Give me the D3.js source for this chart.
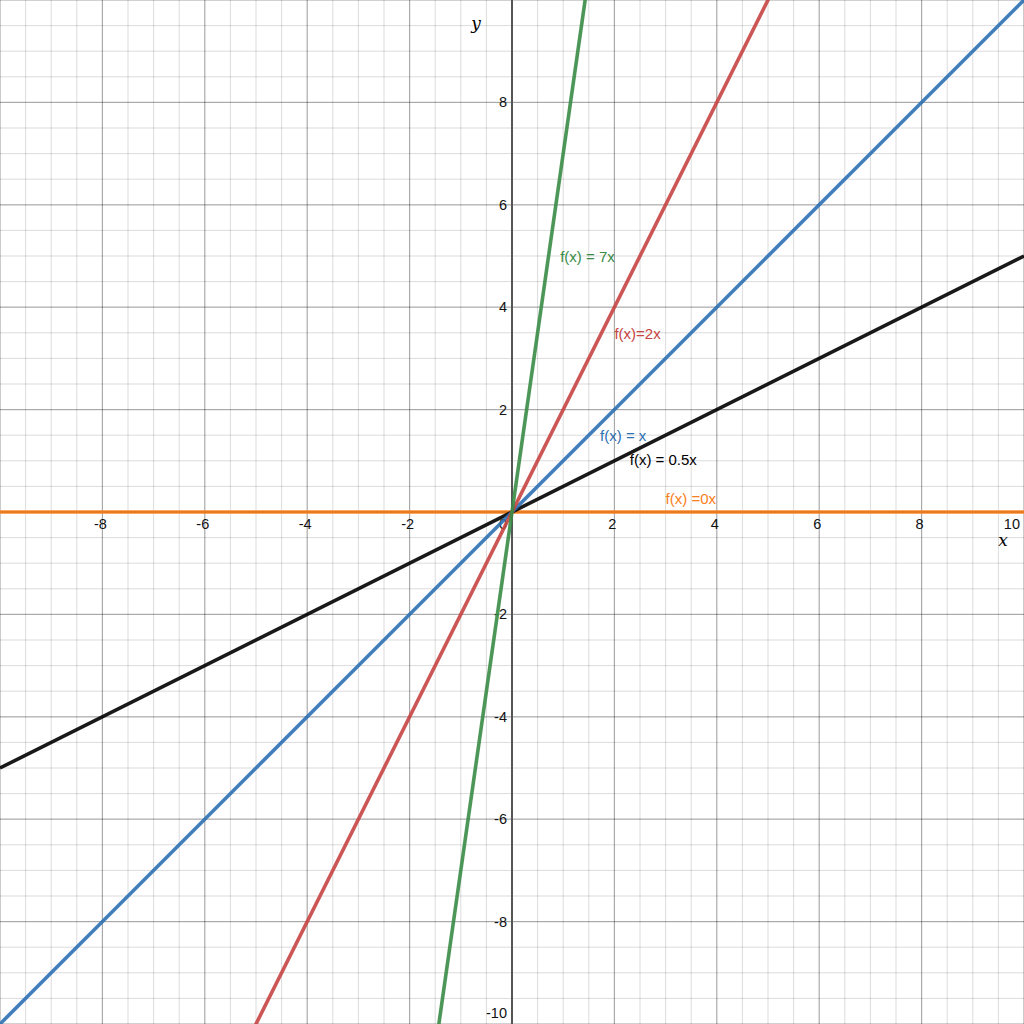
<!DOCTYPE html>
<html>
<head>
<meta charset="utf-8">
<script src="https://cdn.jsdelivr.net/npm/d3@7"></script>
<style>
  html, body { margin: 0; padding: 0; background: #fff; }
  svg { display: block; }
</style>
</head>
<body>
<div id="chart"></div>
<script>
// functions f(x) = k x
const slopes = [0, 0.5, 1, 2, 7];
const names = ["f(x) =0x", "f(x) = 0.5x", "f(x) = x", "f(x)=2x", "f(x) = 7x"];
const colors = ["#fa7e19", "#000000", "#2d70b3", "#c74440", "#388c46"];
// where each label sits (data units, left edge / middle)
const labelX = [3.0, 2.3, 1.72, 2.0, 0.94];
const labelY = [0.27, 1.02, 1.5, 3.48, 5.0];

const xTicks = [-8, -6, -4, -2, 2, 4, 6, 8, 10];
const yTicks = [8, 6, 4, 2, -2, -4, -6, -8, -10];

const width = 1024;
const height = 1024;

const x = d3.scaleLinear().domain([-10, 10]).range([0, width]);
const y = d3.scaleLinear().domain([-10, 10]).range([height, 0]);

const svg = d3.select("#chart")
    .append("svg")
    .attr("width", width)
    .attr("height", height)
    .attr("font-family", "Arial, 'Liberation Sans', sans-serif");

// grid: minor every 0.5, major every 2
const minor = d3.range(-10, 10.01, 0.5);
const major = d3.range(-10, 10.01, 2);

const grid = svg.append("g");
grid.selectAll(".vminor").data(minor).join("line")
    .attr("x1", d => x(d)).attr("x2", d => x(d))
    .attr("y1", 0).attr("y2", height)
    .attr("stroke", "#000").attr("stroke-opacity", 0.14).attr("stroke-width", 1);
grid.selectAll(".hminor").data(minor).join("line")
    .attr("y1", d => y(d)).attr("y2", d => y(d))
    .attr("x1", 0).attr("x2", width)
    .attr("stroke", "#000").attr("stroke-opacity", 0.14).attr("stroke-width", 1);
grid.selectAll(".vmajor").data(major).join("line")
    .attr("x1", d => x(d)).attr("x2", d => x(d))
    .attr("y1", 0).attr("y2", height)
    .attr("stroke", "#000").attr("stroke-opacity", 0.24).attr("stroke-width", 1.2);
grid.selectAll(".hmajor").data(major).join("line")
    .attr("y1", d => y(d)).attr("y2", d => y(d))
    .attr("x1", 0).attr("x2", width)
    .attr("stroke", "#000").attr("stroke-opacity", 0.24).attr("stroke-width", 1.2);

// axes
svg.append("line")
    .attr("x1", 0).attr("x2", width).attr("y1", y(0)).attr("y2", y(0))
    .attr("stroke", "#555").attr("stroke-width", 2);
svg.append("line")
    .attr("x1", x(0)).attr("x2", x(0)).attr("y1", 0).attr("y2", height)
    .attr("stroke", "#555").attr("stroke-width", 2);

// tick labels
svg.append("g").selectAll("text").data(xTicks).join("text")
    .attr("x", d => d === 10 ? width - 4 : x(d) - 2)
    .attr("y", y(0) + 17)
    .attr("text-anchor", d => d === 10 ? "end" : "middle")
    .attr("font-size", 14.5)
    .attr("fill", "#111")
    .text(d => d);

svg.append("g").selectAll("text").data(yTicks).join("text")
    .attr("x", x(0) - 5)
    .attr("y", d => Math.min(y(d), height - 11) + 5)
    .attr("text-anchor", "end")
    .attr("font-size", 14.5)
    .attr("fill", "#111")
    .text(d => d);

svg.append("text")
    .attr("x", x(0) - 5).attr("y", y(0) + 17)
    .attr("text-anchor", "end")
    .attr("font-size", 14.5).attr("fill", "#111")
    .text("0");

// axis names
svg.append("text")
    .attr("x", 1003).attr("y", 546)
    .attr("text-anchor", "middle")
    .attr("font-family", "'DejaVu Serif', 'Liberation Serif', serif")
    .attr("font-style", "italic").attr("font-size", 17)
    .text("x");
svg.append("text")
    .attr("x", 476).attr("y", 29)
    .attr("text-anchor", "middle")
    .attr("font-family", "'DejaVu Serif', 'Liberation Serif', serif")
    .attr("font-style", "italic").attr("font-size", 17)
    .text("y");

// the lines
svg.append("clipPath").attr("id", "plot")
    .append("rect").attr("width", width).attr("height", height);

const line = d3.line().x(d => x(d[0])).y(d => y(d[1]));

svg.append("g").attr("clip-path", "url(#plot)")
    .selectAll("path").data(slopes).join("path")
    .attr("d", k => line([[-10, -10 * k], [10, 10 * k]]))
    .attr("fill", "none")
    .attr("stroke", (k, i) => colors[i])
    .attr("stroke-opacity", 0.9)
    .attr("stroke-width", 3.6);

// labels
svg.append("g").selectAll("text").data(names).join("text")
    .attr("x", (d, i) => x(labelX[i]))
    .attr("y", (d, i) => y(labelY[i]) + 5.5)
    .attr("font-size", 15)
    .attr("fill", (d, i) => i === 1 ? "#000" : colors[i])
    .text(d => d);
</script>
</body>
</html>
